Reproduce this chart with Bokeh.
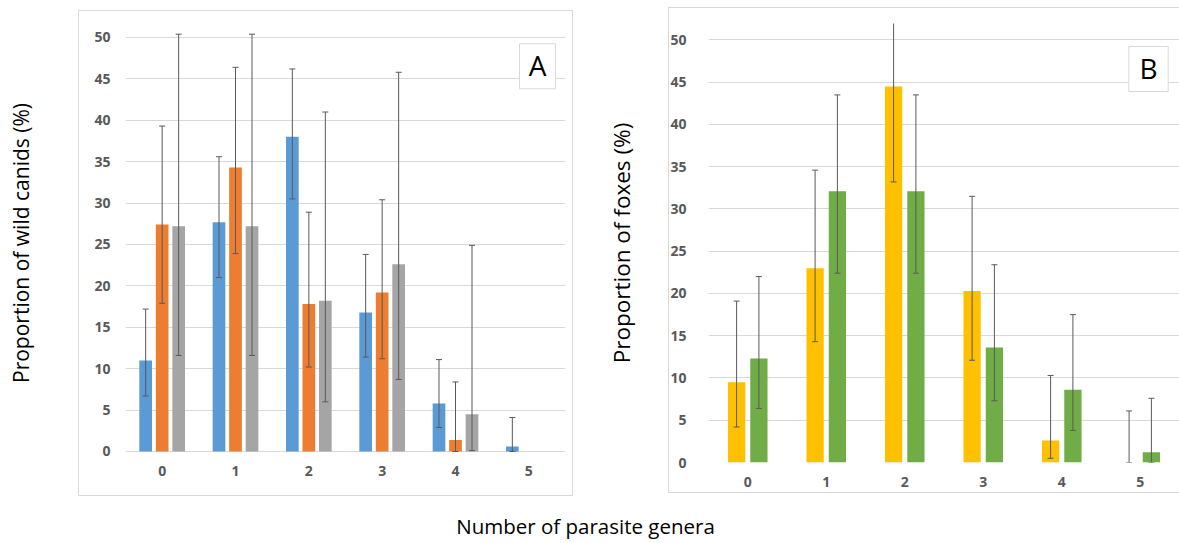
from bokeh.plotting import figure
from bokeh.models import (ColumnDataSource, Range1d, FixedTicker, Whisker, TeeHead,
                          BoxAnnotation, Label)
from bokeh.transform import dodge
from bokeh.layouts import row, column
from bokeh.embed import file_html
from bokeh.resources import INLINE

# ---------------- data ----------------
genera = ["0", "1", "2", "3", "4", "5"]
y_ticks = [0, 5, 10, 15, 20, 25, 30, 35, 40, 45, 50]

# Panel A: wild canids (three series)
canid_blue = [11.0, 27.7, 38.0, 16.8, 5.8, 0.6]
canid_blue_lo = [6.7, 21.0, 30.5, 11.4, 2.9, 0.0]
canid_blue_hi = [17.2, 35.6, 46.2, 23.8, 11.1, 4.1]

canid_orange = [27.4, 34.3, 17.8, 19.2, 1.4, None]
canid_orange_lo = [17.9, 23.9, 10.2, 11.2, 0.0, None]
canid_orange_hi = [39.3, 46.4, 28.9, 30.4, 8.4, None]

canid_gray = [27.2, 27.2, 18.2, 22.6, 4.5, None]
canid_gray_lo = [11.6, 11.6, 6.0, 8.7, 0.1, None]
canid_gray_hi = [50.4, 50.4, 41.0, 45.8, 24.9, None]

# Panel B: foxes (two series)
fox_yellow = [9.5, 23.0, 44.5, 20.3, 2.6, 0.0]
fox_yellow_lo = [4.2, 14.3, 33.2, 12.1, 0.5, 0.0]
fox_yellow_hi = [19.1, 34.6, 53.0, 31.5, 10.3, 6.1]

fox_green = [12.3, 32.1, 32.1, 13.6, 8.6, 1.2]
fox_green_lo = [6.4, 22.4, 22.4, 7.3, 3.8, 0.0]
fox_green_hi = [22.0, 43.5, 43.5, 23.4, 17.5, 7.6]

# ---------------- style ----------------
FONT = "Open Sans"
TICK_COLOR = "#595959"
GRID = "#d9d9d9"
ERR = "#5a5a5a"
BORDER = "#d9d9d9"
ROW_H = 506


def css_lines(lines):
    """Thin light-grey frame lines painted as the figure's CSS background."""
    layers = []
    for (x, y, w, h) in lines:
        layers.append(f"linear-gradient({BORDER},{BORDER}) {x}px {y}px / {w}px {h}px no-repeat")
    return ", ".join(layers)


def make_panel(width, mb_left, mb_right, y_start, y_end, y_standoff, x_standoff,
               ytitle, ytitle_size, ytitle_standoff, frame_lines):
    p = figure(width=width, height=ROW_H, x_range=genera, y_range=Range1d(y_start, y_end),
               output_backend="svg", toolbar_location=None, title=None,
               min_border_left=mb_left, min_border_right=mb_right,
               min_border_top=23, min_border_bottom=ROW_H - 462,
               styles={"background": css_lines(frame_lines)})
    p.x_range.range_padding = 0
    p.outline_line_color = None
    p.background_fill_color = "white"
    p.border_fill_color = None
    p.xgrid.grid_line_color = None
    p.ygrid.grid_line_color = GRID
    p.ygrid.grid_line_width = 1
    p.yaxis.ticker = FixedTicker(ticks=y_ticks)
    for ax in (p.xaxis[0], p.yaxis[0]):
        ax.axis_line_color = None
        ax.major_tick_line_color = None
        ax.minor_tick_line_color = None
        ax.major_tick_in = 0
        ax.major_tick_out = 0
        ax.major_label_text_font = FONT
        ax.major_label_text_font_size = "14px"
        ax.major_label_text_font_style = "bold"
        ax.major_label_text_color = TICK_COLOR
    p.yaxis.major_label_standoff = y_standoff
    p.xaxis.major_label_standoff = x_standoff
    p.yaxis.axis_label = ytitle
    p.yaxis.axis_label_text_font = FONT
    p.yaxis.axis_label_text_font_size = ytitle_size
    p.yaxis.axis_label_text_font_style = "normal"
    p.yaxis.axis_label_text_color = "black"
    p.yaxis.axis_label_standoff = ytitle_standoff
    return p


def add_series(p, vals, lo, hi, offset, width, color):
    idx = [i for i, v in enumerate(vals) if v is not None]
    src = ColumnDataSource(dict(
        cat=[genera[i] for i in idx],
        val=[vals[i] for i in idx],
        lo=[lo[i] for i in idx],
        hi=[hi[i] for i in idx],
    ))
    p.vbar(x=dodge("cat", offset, range=p.x_range), top="val", bottom=0,
           width=width, source=src, fill_color=color, line_color=None)
    w = Whisker(base=dodge("cat", offset, range=p.x_range), upper="hi", lower="lo",
                source=src, dimension="height", line_color=ERR, line_width=1,
                upper_head=TeeHead(size=6, line_color=ERR, line_width=1),
                lower_head=TeeHead(size=6, line_color=ERR, line_width=1))
    w.level = "overlay"
    p.add_layout(w)


def add_tag(p, left, right, bottom, top, text):
    b = BoxAnnotation(left=left, right=right, bottom=bottom, top=top,
                      left_units="screen", right_units="screen",
                      bottom_units="screen", top_units="screen",
                      fill_color="white", fill_alpha=1.0,
                      line_color=BORDER, line_width=1, line_alpha=1.0)
    p.add_layout(b)
    p.add_layout(Label(x=(left + right) / 2, y=(bottom + top) / 2 + 1,
                       x_units="screen", y_units="screen", text=text,
                       text_align="center", text_baseline="middle",
                       text_font=FONT, text_font_size="28px", text_color="black"))


# ---------------- Panel A (page x 0..600) ----------------
pA = make_panel(600, 125, 35, -1.33, 51.69, 15, 3,
                "Proportion of wild canids (%)", "21px", 56,
                [(78, 10, 1, 486), (572, 10, 1, 486), (78, 10, 495, 1), (78, 495, 495, 1)])
add_series(pA, canid_blue, canid_blue_lo, canid_blue_hi, -0.225, 0.173, "#5B9BD5")
add_series(pA, canid_orange, canid_orange_lo, canid_orange_hi, 0.0, 0.173, "#ED7D31")
add_series(pA, canid_gray, canid_gray_lo, canid_gray_hi, 0.225, 0.173, "#A5A5A5")
add_tag(pA, 394, 430, 373.7, 418.7, "A")

# ---------------- Panel B (page x 600..1179) ----------------
pB = make_panel(579, 108, 0, 0, 51.95, 22, 14,
                "Proportion of foxes (%)", "22.5px", 30,
                [(68, 7, 1, 486), (68, 7, 511, 1), (68, 492, 511, 1)])
add_series(pB, fox_yellow, fox_yellow_lo, fox_yellow_hi, -0.142, 0.22, "#FFC000")
add_series(pB, fox_green, fox_green_lo, fox_green_hi, 0.142, 0.22, "#70AD47")
add_tag(pB, 420.3, 459.7, 371, 416, "B")

# ---------------- common x title ----------------
tX = figure(width=1179, height=543 - ROW_H, output_backend="svg", toolbar_location=None,
            title=None, x_axis_location=None, y_axis_location=None,
            min_border=0, x_range=Range1d(0, 1), y_range=Range1d(0, 1))
tX.outline_line_color = None
tX.border_fill_color = None
tX.background_fill_color = None
tX.xgrid.grid_line_color = None
tX.ygrid.grid_line_color = None
tX.add_layout(Label(x=585, y=18, x_units="screen", y_units="screen",
                    text="Number of parasite genera", text_align="center",
                    text_baseline="middle", text_font=FONT,
                    text_font_size="20.5px", text_color="black"))

layout = column(row(pA, pB), tX)

with open("out.html", "w") as f:
    f.write(file_html(layout, INLINE))
